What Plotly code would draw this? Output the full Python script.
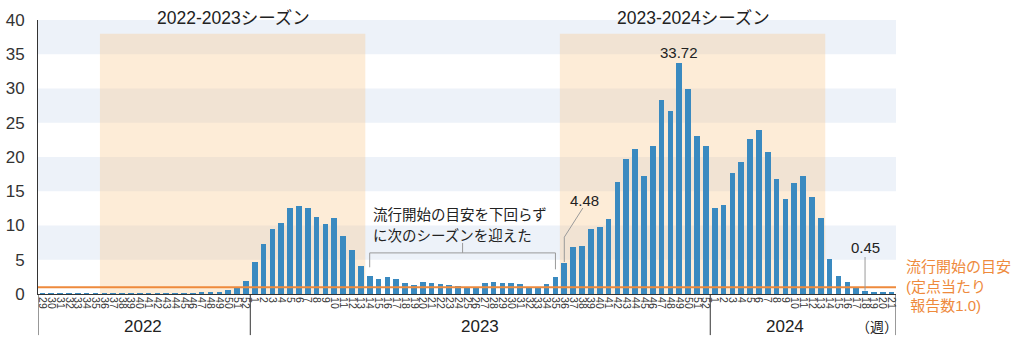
import plotly.graph_objects as go

# ---- data ----
weeks_2022 = list(range(29, 53))
weeks_2023 = list(range(1, 53))
weeks_2024 = list(range(1, 22))

vals_2022 = [0.01, 0.01, 0.01, 0.01, 0.01, 0.01, 0.01, 0.02, 0.02, 0.02, 0.02, 0.02,
             0.03, 0.03, 0.04, 0.05, 0.07, 0.1, 0.15, 0.19, 0.25, 0.58, 1.07, 1.9]
vals_2023 = [4.64, 7.27, 9.5, 10.35, 12.6, 12.9, 12.5, 11.27, 10.2, 11.07, 8.4, 6.45, 4.05,
             2.68, 2.15, 2.48, 2.2, 1.66, 1.32, 1.81, 1.61, 1.51, 1.32, 1.22, 1.08, 1.08,
             1.61, 1.76, 1.56, 1.61, 1.42, 1.02, 1.02, 1.42, 2.53, 4.48, 6.92, 7.02, 9.5,
             9.84, 10.96, 16.33, 19.74, 21.15, 17.3, 21.6, 28.3, 26.75, 33.72, 29.97, 23.1, 21.6]
vals_2024 = [12.6, 13.0, 17.7, 19.2, 22.66, 23.98, 20.66, 16.8, 13.9, 16.2, 17.3, 14.1,
             11.1, 5.07, 2.63, 1.75, 0.98, 0.45, 0.34, 0.3, 0.2]

year_labels = ["2022", "2023", "2024"]
season_labels = ["2022-2023シーズン", "2023-2024シーズン"]
threshold = 1.0
y_ticks = [0, 5, 10, 15, 20, 25, 30, 35, 40]

weeks = weeks_2022 + weeks_2023 + weeks_2024
values = vals_2022 + vals_2023 + vals_2024
xs = list(range(len(values)))

FONT = "Liberation Sans, Noto Sans CJK JP"
DARK = "#222222"
BAR = "#3a8ac0"
ORANGE = "#ee8a3c"

n22 = len(weeks_2022)
n23 = len(weeks_2023)
i_season1_start = weeks_2022.index(36)
i_season1_end = n22 + weeks_2023.index(13)
i_season2_start = n22 + weeks_2023.index(36)
i_season2_end = n22 + n23 + weeks_2024.index(13)
i_peak = values.index(max(values))
i_448 = n22 + weeks_2023.index(36)
i_045 = n22 + n23 + weeks_2024.index(18)
i_br0 = n22 + weeks_2023.index(14)
i_br1 = n22 + weeks_2023.index(35)

fig = go.Figure()
fig.add_trace(go.Bar(x=xs, y=values, marker=dict(color=BAR, line=dict(width=0)),
                     width=0.64, hoverinfo="skip"))

shapes = []
# horizontal bands
for lo in [5, 15, 25, 35]:
    shapes.append(dict(type="rect", xref="paper", yref="y", x0=0, x1=1, y0=lo, y1=lo + 5,
                       fillcolor="#edf2f9", line=dict(width=0), layer="below"))
# season rectangles
for a, b in [(i_season1_start, i_season1_end), (i_season2_start, i_season2_end)]:
    shapes.append(dict(type="rect", xref="x", yref="y", x0=a - 0.5, x1=b + 0.5, y0=0, y1=38,
                       fillcolor="rgba(250,200,140,0.35)", line=dict(width=0), layer="below"))
# threshold line
shapes.append(dict(type="line", xref="paper", yref="y", x0=0, x1=1, y0=threshold, y1=threshold,
                   line=dict(color=ORANGE, width=2), layer="above"))
# year dividers below the axis
for xv in [-0.5, n22 - 0.5, n22 + n23 - 0.5, len(values) - 0.5]:
    shapes.append(dict(type="line", xref="x", yref="paper", x0=xv, x1=xv, y0=0, y1=-0.15,
                       line=dict(color="#333333", width=1)))
GRAY = "#9a9a9a"
# bracket
shapes.append(dict(type="line", xref="x", yref="y", x0=i_br0, x1=i_br1, y0=6.0, y1=6.0,
                   line=dict(color=GRAY, width=1)))
shapes.append(dict(type="line", xref="x", yref="y", x0=i_br0, x1=i_br0, y0=6.0, y1=3.9,
                   line=dict(color=GRAY, width=1)))
shapes.append(dict(type="line", xref="x", yref="y", x0=i_br1, x1=i_br1, y0=6.0, y1=3.6,
                   line=dict(color=GRAY, width=1)))
mid = (i_br0 + i_br1) / 2
shapes.append(dict(type="line", xref="x", yref="y", x0=mid, x1=mid, y0=6.0, y1=7.45,
                   line=dict(color=GRAY, width=1)))
# 4.48 leader
shapes.append(dict(type="line", xref="x", yref="y", x0=i_448 + 2.1, x1=i_448, y0=12.55, y1=8.3,
                   line=dict(color=GRAY, width=1)))
shapes.append(dict(type="line", xref="x", yref="y", x0=i_448, x1=i_448, y0=8.3, y1=4.67,
                   line=dict(color=GRAY, width=1)))
# 0.45 leader
shapes.append(dict(type="line", xref="x", yref="y", x0=i_045, x1=i_045, y0=5.4, y1=0.5,
                   line=dict(color=GRAY, width=1)))

ann = []
def A(text, x, y, xref="x", yref="y", size=15, color=DARK, xanchor="center", yanchor="middle", align="center"):
    ann.append(dict(text=text, x=x, y=y, xref=xref, yref=yref, showarrow=False,
                    font=dict(family=FONT, size=size, color=color),
                    xanchor=xanchor, yanchor=yanchor, align=align))

A(season_labels[0], 21.6, 1.0055, yref="paper", size=17.5)
A(season_labels[1], 73.6, 1.0055, yref="paper", size=17.5)
A("33.72", i_peak, 35.2, size=15)
A("4.48", i_448 + 2.3, 13.7, size=15)
A("0.45", i_045, 6.8, size=15)
A("流行開始の目安を下回らず", 37.1, 11.5, size=14.5, xanchor="left")
A("に次のシーズンを迎えた", 37.1, 8.45, size=14.5, xanchor="left")
A("流行開始の目安<br>(定点当たり<br> 報告数1.0)", 1.009, 0.028, xref="paper", yref="paper",
  size=15, color=ORANGE, xanchor="left", align="left")
A(year_labels[0], 11.4, -0.12, yref="paper", size=17)
A(year_labels[1], 49.5, -0.12, yref="paper", size=17)
A(year_labels[2], 84.0, -0.12, yref="paper", size=17)
A("（週）", 94.4, -0.12, yref="paper", size=14)

fig.update_layout(
    template="none",
    width=1024, height=349,
    margin=dict(l=38, r=128, t=20, b=55, pad=0),
    paper_bgcolor="white", plot_bgcolor="white",
    showlegend=False,
    bargap=0,
    shapes=shapes,
    annotations=ann,
    font=dict(family=FONT, color=DARK),
    xaxis=dict(range=[-0.5, len(values) - 0.5], tickmode="array", tickvals=xs,
               ticktext=[str(w) for w in weeks], tickangle=90,
               tickfont=dict(family=FONT, size=10.5, color="#333333"),
               showgrid=False, zeroline=False, showline=True, linecolor="#333333",
               linewidth=1, ticks="", automargin=False, fixedrange=True),
    yaxis=dict(range=[0, 40], tickmode="array", tickvals=y_ticks,
               tickfont=dict(family=FONT, size=17, color="#333333"),
               showgrid=False, zeroline=False, showline=True, linecolor="#333333",
               linewidth=1, ticks="outside", ticklen=9, tickcolor="rgba(0,0,0,0)",
               automargin=False, fixedrange=True),
)

fig.write_html("out.html")
